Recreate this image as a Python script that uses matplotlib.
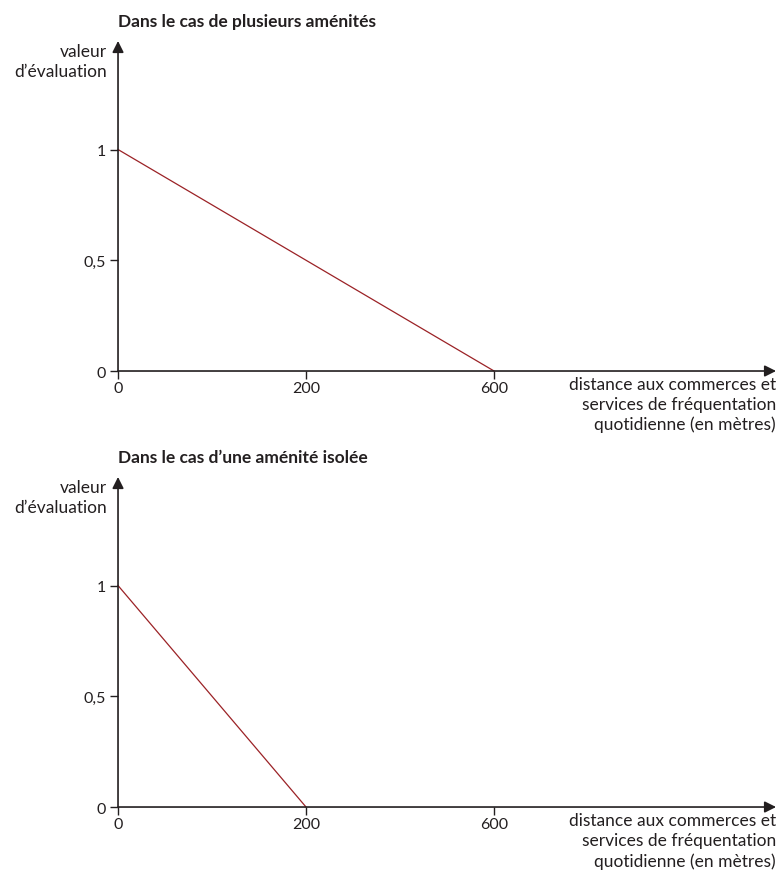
import numpy as np
import matplotlib
matplotlib.use("Agg")
import matplotlib.pyplot as plt

# --- DATA ---
X_TICKS = [0, 200, 600]
X_TICK_LABELS = ["0", "200", "600"]
Y_TICKS = [0, 0.5, 1]
Y_TICK_LABELS = ["0", "0,5", "1"]

TOP_TITLE = "Dans le cas de plusieurs aménités"
TOP_DIST = [0, 600]
TOP_VALUE = [1, 0]

BOTTOM_TITLE = "Dans le cas d\u2019une aménité isolée"
BOTTOM_DIST = [0, 200]
BOTTOM_VALUE = [1, 0]

Y_LABEL = "valeur\nd\u2019évaluation"
X_LABEL = "distance aux commerces et\nservices de fréquentation\nquotidienne (en mètres)"

# --- STYLE ---
AXIS_COLOR = "#231f20"
LINE_COLOR = "#9b2226"
plt.rcParams["font.family"] = ["Lato", "DejaVu Sans"]

# the distance axis is not linear: 0, 200 and 600 are evenly spaced
KNOT_D = [0, 200, 600, 1200]
KNOT_P = [0, 1, 2, 3.5]


def fwd(x):
    return np.interp(x, KNOT_D, KNOT_P)


def inv(p):
    return np.interp(p, KNOT_P, KNOT_D)


def draw_panel(ax, title, dist, value):
    ax.set_xscale("function", functions=(fwd, inv))
    ax.set_xlim(0, 1200)
    ax.set_ylim(0, 1.49)
    for s in ax.spines.values():
        s.set_visible(False)

    ax.plot(dist, value, color=LINE_COLOR, lw=0.9, clip_on=False)

    arrow = dict(arrowstyle="-|>", color=AXIS_COLOR, lw=1.2, mutation_scale=17,
                 shrinkA=0, shrinkB=0)
    ax.annotate("", xy=(1, 0), xytext=(0, 0), xycoords="axes fraction", arrowprops=arrow)
    ax.annotate("", xy=(0, 1), xytext=(0, 0), xycoords="axes fraction", arrowprops=arrow)

    ax.set_xticks(X_TICKS)
    ax.set_xticklabels(X_TICK_LABELS)
    ax.set_yticks(Y_TICKS)
    ax.set_yticklabels(Y_TICK_LABELS)
    ax.xaxis.set_minor_locator(matplotlib.ticker.NullLocator())
    ax.tick_params(axis="x", direction="out", length=6, width=1.0, color=AXIS_COLOR,
                   labelsize=11.5, labelcolor=AXIS_COLOR, pad=1)
    ax.tick_params(axis="y", direction="out", length=6, width=1.0, color=AXIS_COLOR,
                   labelsize=11.5, labelcolor=AXIS_COLOR, pad=3)

    ax.text(0, 1.035, title, transform=ax.transAxes, ha="left", va="bottom",
            fontsize=12.5, fontweight="bold", color=AXIS_COLOR)
    ax.text(-0.017, 0.995, Y_LABEL, transform=ax.transAxes, ha="right", va="top",
            multialignment="right", fontsize=12.5, color=AXIS_COLOR, linespacing=1.3)
    ax.text(1.0, -0.015, X_LABEL, transform=ax.transAxes, ha="right", va="top",
            multialignment="right", fontsize=12.5, color=AXIS_COLOR, linespacing=1.3)


fig = plt.figure(figsize=(7.78, 8.78), dpi=100)
ax_top = fig.add_axes([0.1517, 0.5763, 0.8458, 0.3759])
ax_bot = fig.add_axes([0.1517, 0.0797, 0.8458, 0.3759])

draw_panel(ax_top, TOP_TITLE, TOP_DIST, TOP_VALUE)
draw_panel(ax_bot, BOTTOM_TITLE, BOTTOM_DIST, BOTTOM_VALUE)

fig.savefig("out.png", dpi=100)
